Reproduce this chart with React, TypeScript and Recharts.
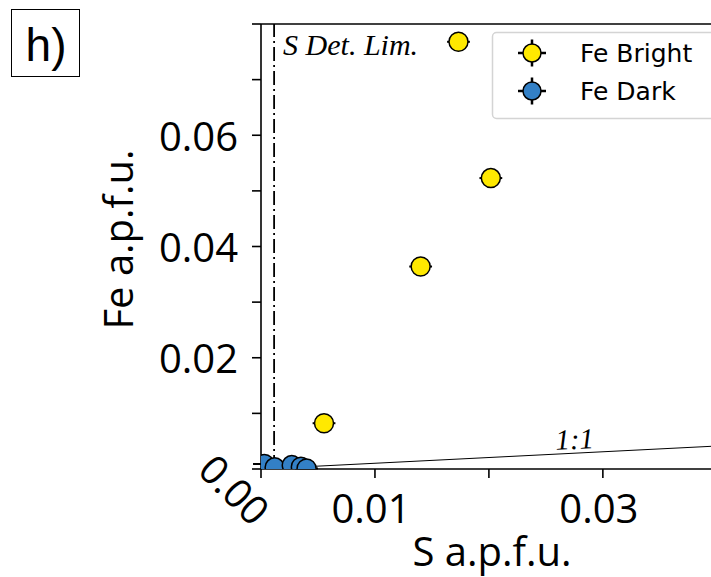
import React from 'react';
import { ScatterChart, Scatter, XAxis, YAxis, ReferenceLine, ErrorBar } from 'recharts';

// Fe Bright series
const brightS = [0.00553, 0.01401, 0.01733, 0.02017];
const brightFe = [0.00823, 0.0364, 0.0768, 0.0523];
// Fe Dark series
const darkS = [0.0003, 0.0012, 0.0027, 0.0035, 0.004];
const darkFe = [0.0009, 0.0003, 0.0007, 0.0004, 0.0001];
const sErr = 0.001;

const xTicks = [0, 0.01, 0.02, 0.03, 0.04];
const xTickLabels = ['0.00', '0.01', '', '0.03', ''];
const yTicks = [0, 0.01, 0.02, 0.03, 0.04, 0.05, 0.06, 0.07, 0.08];
const yTickLabels = ['', '', '0.02', '', '0.04', '', '0.06', '', ''];
const sDetLimit = 0.00115;
const oneToOneX = [0, 0.043];
const oneToOneY = [0, 0.00444];

const YELLOW = '#FFE900';
const BLUE = '#3380C6';
const SANS = '"Open Sans", sans-serif';

const brightData = brightS.map((s, i) => ({ x: s, y: brightFe[i], ex: sErr }));
const darkData = darkS.map((s, i) => ({ x: s, y: darkFe[i], ex: sErr }));

const dot = (fill: string) => (props: any) => (
  <circle cx={props.cx} cy={props.cy} r={9.5} fill={fill} stroke="#000" strokeWidth={1.5} />
);

const XTick = (props: any) => {
  const { x, y, payload } = props;
  const idx = xTicks.indexOf(payload.value);
  const label = idx >= 0 ? xTickLabels[idx] : '';
  if (!label) return null;
  if (payload.value === 0) {
    const cx = x - 26;
    const cy = y + 9;
    return (
      <text x={cx} y={cy} textAnchor="middle" dominantBaseline="central" fontFamily={SANS} fontSize={40}
        fill="#000" transform={`rotate(45, ${cx}, ${cy})`}>{label}</text>
    );
  }
  return (
    <text x={x - 4} y={y + 43} textAnchor="middle" fontFamily={SANS} fontSize={40} fill="#000">{label}</text>
  );
};

const YTick = (props: any) => {
  const { x, y, payload } = props;
  const idx = yTicks.findIndex((t) => Math.abs(t - payload.value) < 1e-9);
  const label = idx >= 0 ? yTickLabels[idx] : '';
  if (!label) return null;
  return (
    <text x={x} y={y} textAnchor="end" dominantBaseline="central" fontFamily={SANS} fontSize={40} fill="#000">{label}</text>
  );
};

const XTitle = (props: any) => {
  const vb = props.viewBox || { x: 261, y: 469, width: 490, height: 108 };
  return (
    <text x={vb.x + vb.width / 2 - 14} y={vb.y + 97} textAnchor="middle" fontFamily={SANS} fontSize={40} fill="#000">S a.p.f.u.</text>
  );
};

const YTitle = (props: any) => {
  const vb = props.viewBox || { x: 0, y: 24, width: 261, height: 445 };
  const cx = 133;
  const cy = vb.y + vb.height / 2 - 7;
  return (
    <text x={cx} y={cy} textAnchor="middle" fontFamily={SANS} fontSize={40} fill="#000"
      transform={`rotate(-90, ${cx}, ${cy})`}>Fe a.p.f.u.</text>
  );
};

const DetLabel = (props: any) => {
  const vb = props.viewBox || { x: 274, y: 24 };
  return (
    <text x={vb.x + 9} y={55} fontFamily='"Liberation Serif", serif' fontStyle="italic" fontSize={30} fill="#000">S Det. Lim.</text>
  );
};

const OneLabel = () => (
  <text x={575} y={449} textAnchor="middle" fontFamily='"Liberation Serif", serif' fontStyle="italic" fontSize={29}
    fill="#000" transform="rotate(-2.5, 575, 449)">1:1</text>
);

const LegendMarker = ({ x, y, fill }: { x: number; y: number; fill: string }) => (
  <g>
    <line x1={x - 14} x2={x + 14} y1={y} y2={y} stroke="#000" strokeWidth={2.5} />
    <line x1={x} x2={x} y1={y - 13.5} y2={y + 13.5} stroke="#000" strokeWidth={2.5} />
    <circle cx={x} cy={y} r={9} fill={fill} stroke="#000" strokeWidth={1.5} />
  </g>
);

export default function App() {
  return (
    <div style={{ position: 'absolute', left: 0, top: 0, width: 711, height: 577, overflow: 'hidden', background: '#fff' }}>
      <ScatterChart width={800} height={577} margin={{ top: 24, right: 49, bottom: 0, left: 0 }}>
        <XAxis
          type="number"
          dataKey="x"
          domain={[0, 0.043]}
          ticks={xTicks}
          allowDataOverflow
          height={108}
          axisLine={{ stroke: '#000', strokeWidth: 1.6 }}
          tickLine={{ stroke: '#000', strokeWidth: 1.6 }}
          tickSize={9}
          tickMargin={2}
          tick={<XTick />}
          interval={0}
          label={<XTitle />}
        />
        <YAxis
          type="number"
          dataKey="y"
          domain={[0, 0.08]}
          ticks={yTicks}
          allowDataOverflow
          width={261}
          axisLine={{ stroke: '#000', strokeWidth: 1.6 }}
          tickLine={{ stroke: '#000', strokeWidth: 1.6 }}
          tickSize={9}
          tickMargin={14}
          tick={<YTick />}
          interval={0}
          label={<YTitle />}
        />
        <ReferenceLine y={0.08} stroke="#000" strokeWidth={1.6} />
        <ReferenceLine
          segment={[{ x: oneToOneX[0], y: oneToOneY[0] }, { x: oneToOneX[1], y: oneToOneY[1] }]}
          stroke="#000"
          strokeWidth={1}
          ifOverflow="hidden"
          label={<OneLabel />}
        />
        <ReferenceLine
          x={sDetLimit}
          stroke="#000"
          strokeWidth={1.8}
          strokeDasharray="14 4 2 4"
          label={<DetLabel />}
        />
        <Scatter name="Fe Dark" data={darkData} shape={dot(BLUE)} isAnimationActive={false}>
          <ErrorBar dataKey="ex" direction="x" width={0} stroke="#000" strokeWidth={2} />
        </Scatter>
        <Scatter name="Fe Bright" data={brightData} shape={dot(YELLOW)} isAnimationActive={false}>
          <ErrorBar dataKey="ex" direction="x" width={0} stroke="#000" strokeWidth={2} />
        </Scatter>
      </ScatterChart>
      <svg width={711} height={577} style={{ position: 'absolute', left: 0, top: 0, pointerEvents: 'none' }}>
        <rect x={11.5} y={9.5} width={68} height={67} fill="#fff" stroke="#000" strokeWidth={1} />
        <text x={46} y={61} textAnchor="middle" fontFamily='"Liberation Sans", sans-serif' fontSize={46} fill="#000">h)</text>
        <rect x={492.5} y={32.5} width={260} height={86} rx={4} fill="#fff" fillOpacity={0.85} stroke="#d4d4d4" strokeWidth={1.5} />
        <LegendMarker x={532} y={53} fill={YELLOW} />
        <LegendMarker x={532} y={91} fill={BLUE} />
        <text x={580} y={62} fontFamily='"DejaVu Sans", sans-serif' fontSize={25} fill="#000">Fe Bright</text>
        <text x={580} y={100} fontFamily='"DejaVu Sans", sans-serif' fontSize={25} fill="#000">Fe Dark</text>
      </svg>
    </div>
  );
}
